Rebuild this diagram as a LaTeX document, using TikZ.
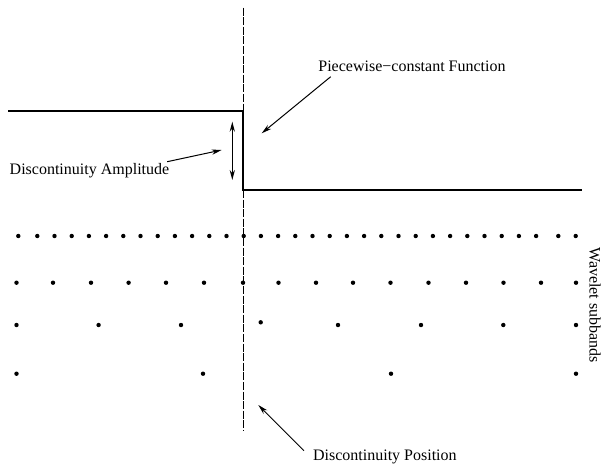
\documentclass[tikz,border=0pt]{standalone}
\usepackage{fontspec}
\setmainfont{Liberation Serif}
\usetikzlibrary{arrows.meta}

\begin{document}
\begin{tikzpicture}[x=0.5pt,y=-0.5pt,>={Stealth[length=5pt,width=2.6pt]},
  lbl/.style={font=\fontsize{8}{9.6}\selectfont,inner sep=0pt},
  pointer/.style={->,line width=0.5pt}]
\useasboundingbox (0,0) rectangle (605,463);
% step function
\coordinate (tl) at (8.3,110.7);
\coordinate (jt) at (243,110.7);
\coordinate (jb) at (243,190);
\coordinate (br) at (581.7,190);
\draw[line width=1pt] (tl) -- (jt) -- (jb) -- (br);
% discontinuity position
\coordinate (dtop) at (243,7.5);
\coordinate (dbot) at (243,430.7);
\draw[line width=0.5pt,dash pattern=on 4pt off 0.8pt] (dtop) -- (dbot);
% amplitude
\coordinate (ampt) at (232.3,121.7);
\coordinate (ampb) at (232.3,180);
\draw[<->,line width=0.5pt] (ampt) -- (ampb);
% wavelet coefficients
\fill (18.3,236) circle[radius=1.1pt];
\foreach \k in {0,...,29}
  \fill (37.3+17.2*\k,236) circle[radius=1.1pt];
\foreach \x in {558.3,575.7}
  \fill (\x,236) circle[radius=1.1pt];
\foreach \x in {16.5,53,91,128.6,166,204,243,278.5,316,353,390.5,428.5,466,503.5,541,576}
  \fill (\x,282.7) circle[radius=1.1pt];
\foreach \x in {16.5,98.6,181,338,421,503.3,576}
  \fill (\x,325) circle[radius=1.1pt];
\fill (260.7,322.3) circle[radius=1.1pt];
\foreach \x in {16.5,203,391,576}
  \fill (\x,373.7) circle[radius=1.1pt];
% labels
\node[lbl,anchor=base west] (pcf) at (318,71) {Piecewise−constant Function};
\coordinate (pcftip) at (261.7,133.3);
\draw[pointer] ([shift={(12.7,5.7)}]pcf.base west) -- (pcftip);
\node[lbl,anchor=base west] (amp) at (9.3,174) {Discontinuity Amplitude};
\coordinate (amptip) at (221.7,150);
\draw[pointer] ([shift={(-2.5,-12.3)}]amp.base east) -- (amptip);
\node[lbl,anchor=base west] (pos) at (312.7,460.7) {Discontinuity Position};
\coordinate (postip) at (258.3,405);
\draw[pointer] ([shift={(-8.7,-10)}]pos.base west) -- (postip);
\node[lbl,rotate=-90,anchor=base] (wsb) at (589.5,305) {Wavelet subbands};
\end{tikzpicture}
\end{document}
